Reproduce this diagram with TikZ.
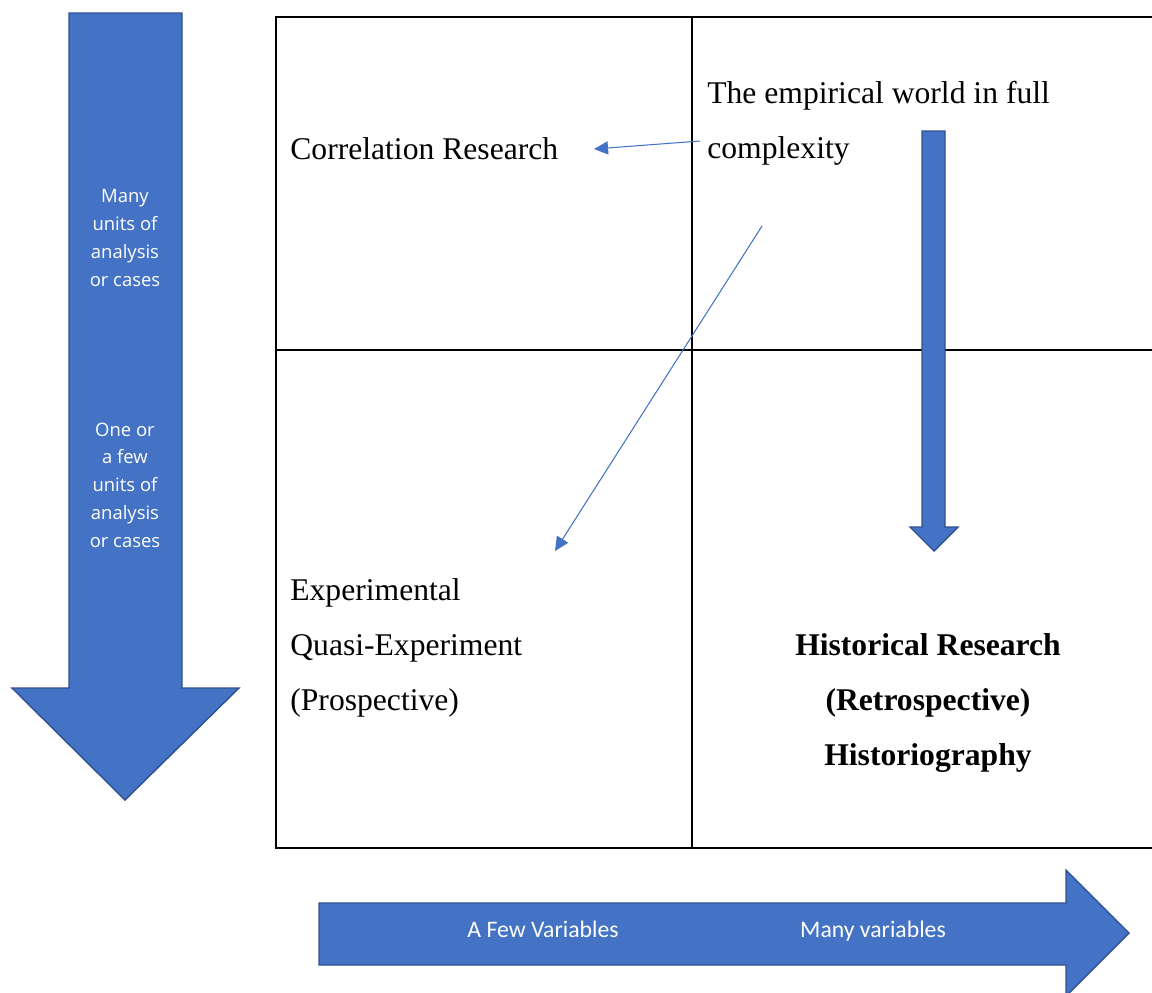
\documentclass[tikz,border=0pt]{standalone}
\usepackage{fontspec}
\setmainfont{Liberation Serif}
\newfontfamily\labelfont{Open Sans}
\newfontfamily\axisfont{Carlito}
\usetikzlibrary{arrows.meta}
\definecolor{accent}{HTML}{4472C4}
\definecolor{accentdark}{HTML}{2F528F}

\begin{document}
\begin{tikzpicture}[x=0.02cm,y=-0.02cm]
    \tikzstyle{blockarrow}=[fill=accent, draw=accentdark, line width=0.8pt, line join=miter]
    \tikzstyle{gridline}=[draw=black, line width=1.1pt]
    \tikzstyle{pointer}=[draw=accent, line width=0.6pt, -{Triangle[length=8pt,width=7.5pt]}]
    \tikzstyle{cell}=[inner sep=0pt, font=\fontsize{18}{31.2}\selectfont]
    \tikzstyle{sidetext}=[inner sep=0pt, text=white, align=center, font=\labelfont\fontsize{10.5}{15.8}\selectfont]
    \tikzstyle{bottomtext}=[inner sep=0pt, text=white, anchor=base, font=\axisfont\fontsize{13.5}{16}\selectfont]
    \useasboundingbox (0,0) rectangle (1152,992);
    \clip (0,0) rectangle (1152,992);
    % the four cells
    \draw[gridline] (1160,17) -- (276,17) -- (276,848) -- (1160,848);
    \draw[gridline] (692,17) -- (692,848);
    \draw[gridline] (276,350) -- (1160,350);
    % big arrows
    \filldraw[blockarrow] (69,13) -- (182,13) -- (182,688) -- (239,688) -- (125,800)
        -- (12,688) -- (69,688) -- cycle;
    \filldraw[blockarrow] (319,903) -- (1066,903) -- (1066,870) -- (1129,933)
        -- (1066,996) -- (1066,965) -- (319,965) -- cycle;
    \filldraw[blockarrow] (922,131) -- (945,131) -- (945,527) -- (958,527) -- (934,551)
        -- (910,527) -- (922,527) -- cycle;
    % texts
    \node[sidetext] (manyunits) at (125,238) {Many\\units of\\analysis\\or cases};
    \node[sidetext] (fewunits) at (125,485) {One or\\a few\\units of\\analysis\\or cases};
    \node[bottomtext] (fewvars) at (543,937) {A Few Variables};
    \node[bottomtext] (manyvars) at (873,937) {Many variables};
    \node[cell, anchor=base west] (corr) at (290,159) {Correlation Research};
    \node[cell, anchor=west, align=left] (world) at (707,123) {The empirical world in full\\complexity};
    \node[cell, anchor=west, align=left] (experimental) at (290,648) {Experimental\\Quasi-Experiment\\(Prospective)};
    \node[cell, align=center, font=\fontsize{18}{31.2}\selectfont\bfseries] (historical) at (928,703) {Historical Research\\(Retrospective)\\Historiography};
    % thin pointers
    \coordinate (worldtail) at (700,141);
    \coordinate (corrtip) at (594,149);
    \coordinate (diagtail) at (762,226);
    \coordinate (diagtip) at (555,551);
    \draw[pointer] (worldtail) -- (corrtip);
    \draw[pointer] (diagtail) -- (diagtip);
\end{tikzpicture}
\end{document}
